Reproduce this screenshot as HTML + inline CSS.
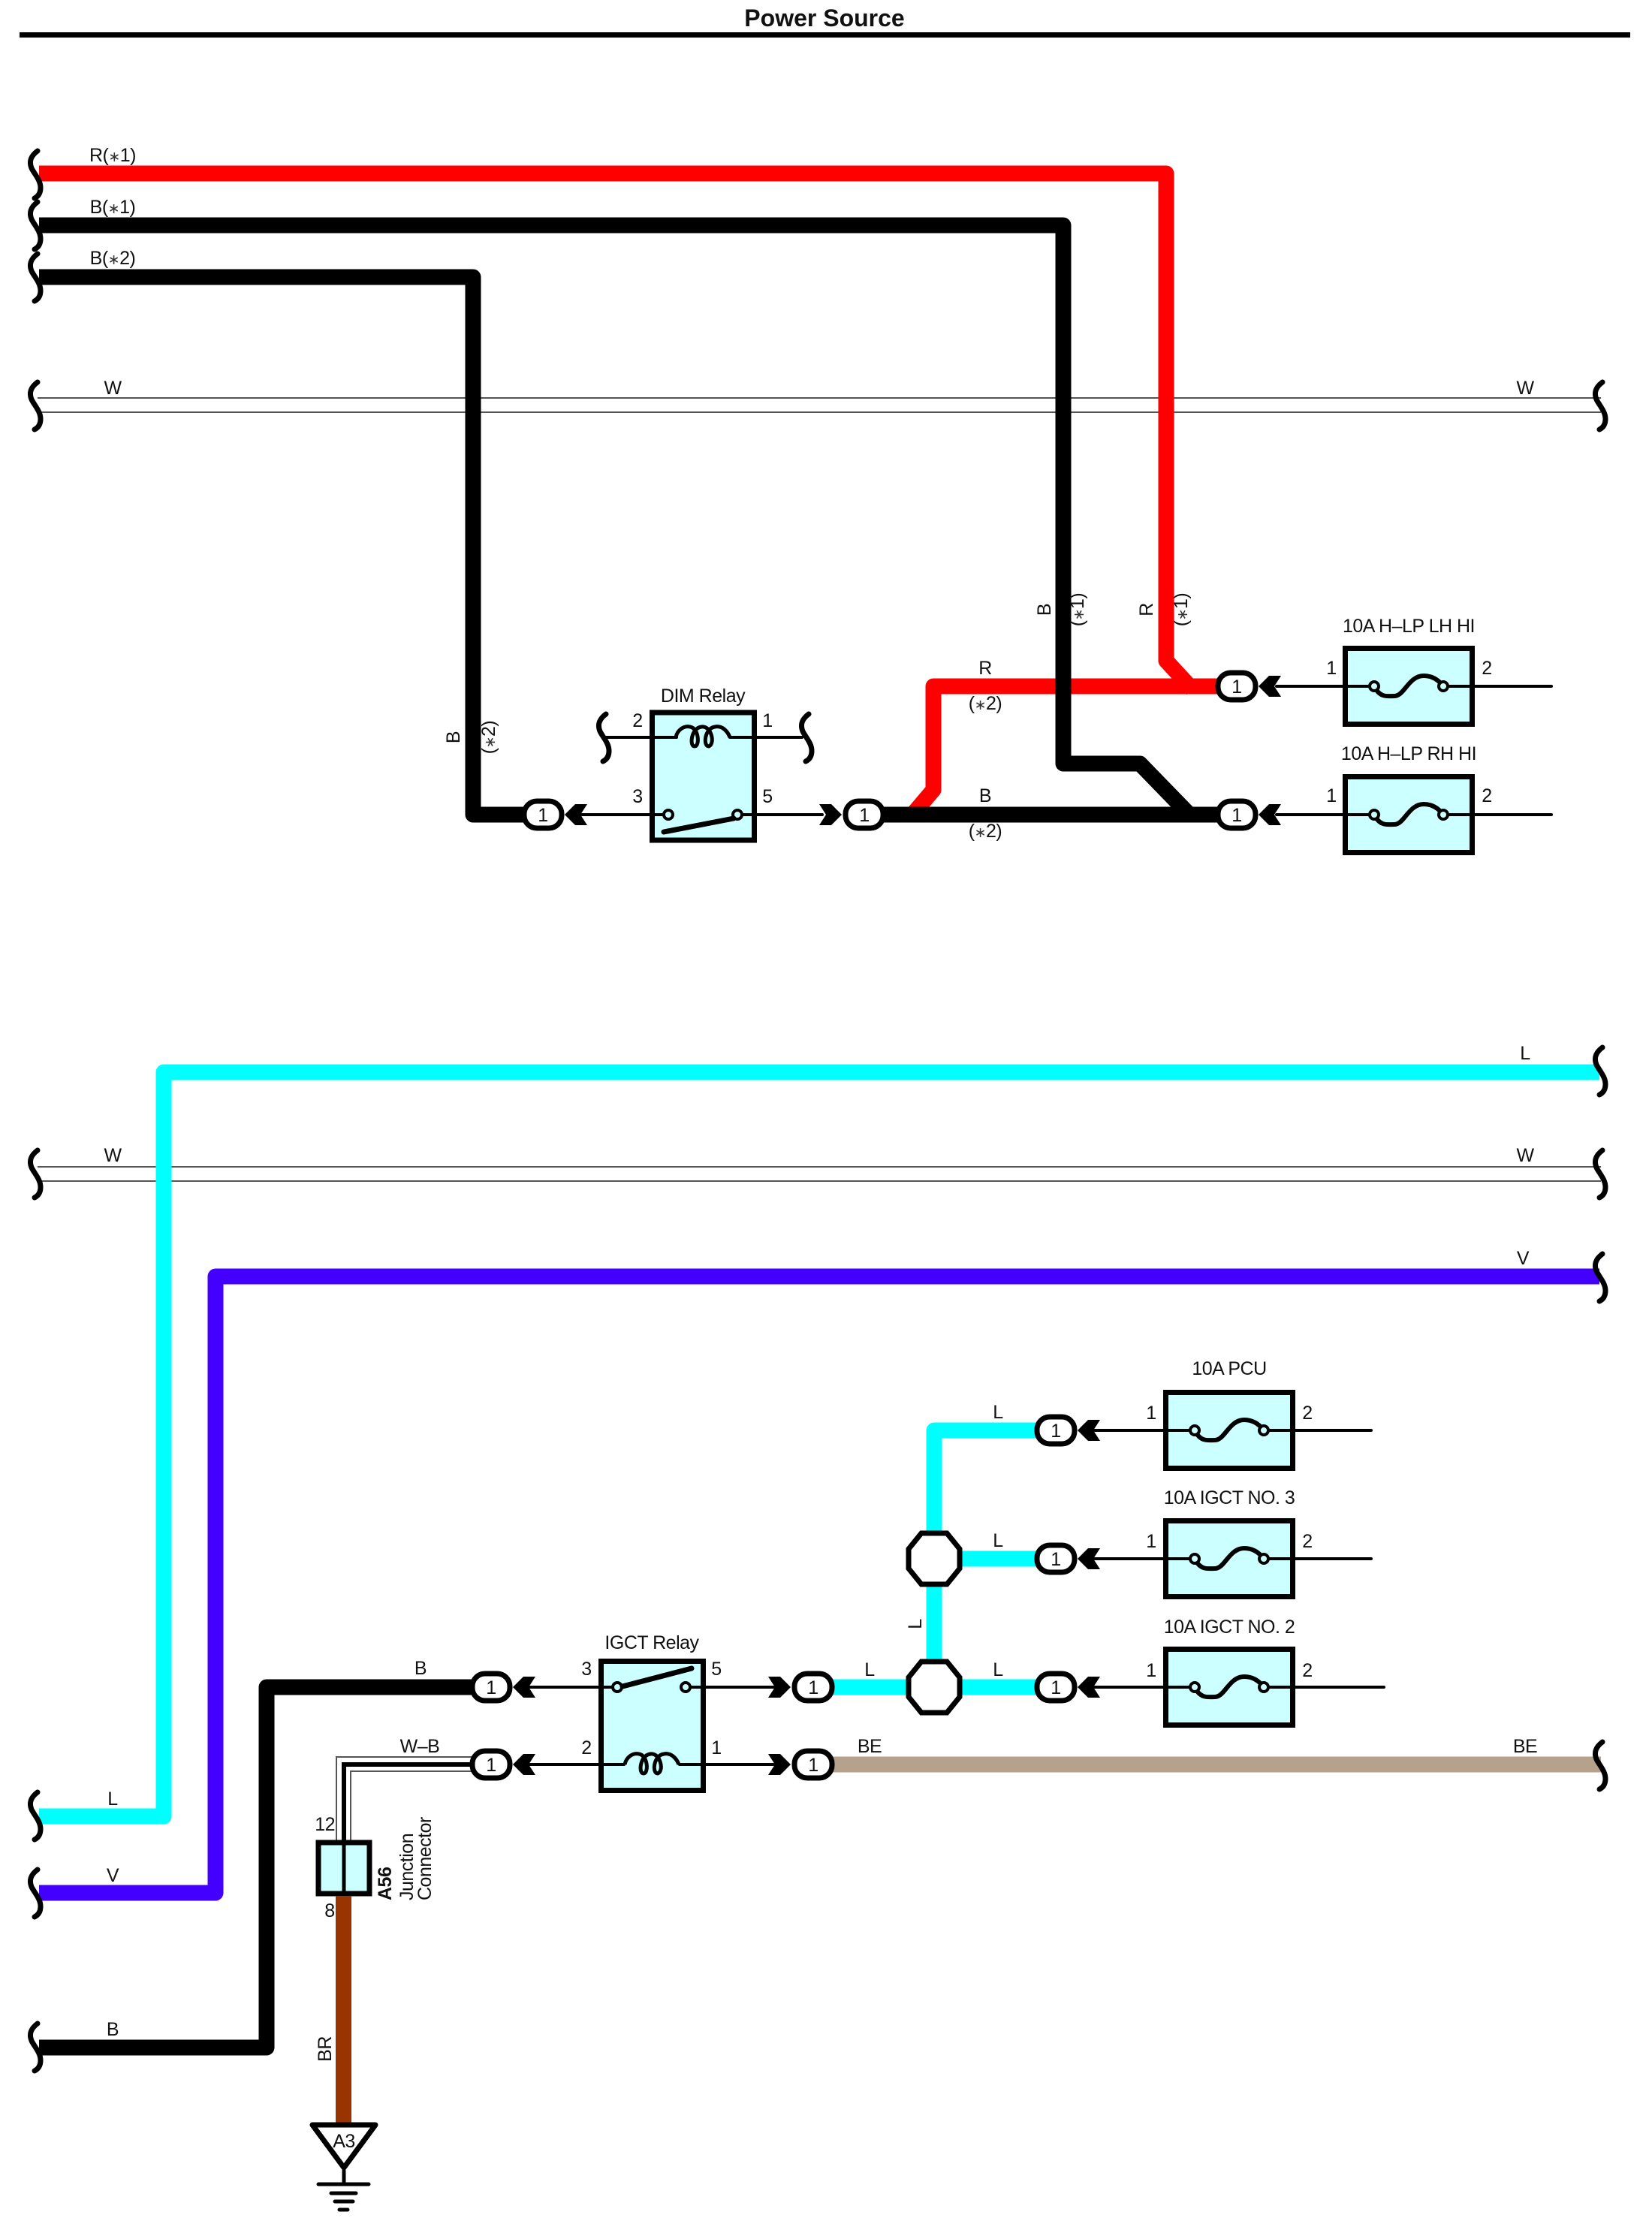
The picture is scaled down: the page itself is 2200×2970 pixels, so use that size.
<!DOCTYPE html>
<html><head><meta charset="utf-8"><title>Power Source</title>
<style>
html,body{margin:0;padding:0;background:#fff}
svg{display:block}
text{font-family:"Liberation Sans",Arial,sans-serif;font-size:25px;letter-spacing:-.5px;fill:#111;text-anchor:middle}
.a{font-size:19px;fill:#333}
.w{fill:none;stroke-width:21;stroke-linejoin:round}
.t{fill:none;stroke:#000;stroke-width:4;stroke-linecap:round}
.th{fill:none;stroke:#555;stroke-width:2}
</style></head><body>
<svg xmlns="http://www.w3.org/2000/svg" width="2200" height="2970" viewBox="0 0 2200 2970">
<defs>
<path id="br" d="M50 -31C42 -25 38 -18 42 -8C46 0 54 8 54 18C54 24 52 29 46 32" fill="none" stroke="#000" stroke-width="7" stroke-linecap="round"/>
<g id="pill"><rect x="-25" y="-18" width="50" height="36" rx="17" fill="#fff" stroke="#000" stroke-width="7"/></g>
<polygon id="cl" points="0,0 14,-14 30,-14 21,0 30,14 14,14"/>
<polygon id="cr" points="0,0 -14,-14 -30,-14 -21,0 -30,14 -14,14"/>
<polygon id="oct" points="-17,-34 17,-34 34,-13 34,13 17,34 -17,34 -34,13 -34,-13" fill="#fff" stroke="#000" stroke-width="7"/>
<g id="fuse">
<rect x="-84.5" y="-50.5" width="169" height="101" fill="#ccffff" stroke="#000" stroke-width="7"/>
</g>
<g id="fusei">
<path d="M-46 0C-38 16 -28 13 -19 13C-6 13 0 -14 20 -14C32 -14 40 -8 46 0" fill="none" stroke="#000" stroke-width="6"/>
<circle cx="-46" cy="0" r="6" fill="#ccffff" stroke="#000" stroke-width="4"/>
<circle cx="46" cy="0" r="6" fill="#ccffff" stroke="#000" stroke-width="4"/>
</g>
<path id="coil" d="M-36 0C-34 -10 -25 -16 -17 -14C-5 -12 -4 12 -11 12C-18 12 -16 -12 -2 -14C11 -16 17 8 8 12C0 12 2 -12 16 -14C26 -16 33 -8 36 0" fill="none" stroke="#000" stroke-width="5"/>
</defs>

<rect width="2200" height="2970" fill="#fff"/>
<text x="1098" y="35" style="font-weight:bold;font-size:32px;letter-spacing:0">Power Source</text>
<rect x="26" y="43" width="2145" height="7" fill="#000"/>

<!-- top W -->
<path class="th" d="M50 530H2132M50 549H2132"/>
<use href="#br" transform="translate(0,540)"/>
<use href="#br" transform="translate(2084,540)"/>
<text x="150" y="525">W</text><text x="2031" y="525">W</text>

<!-- red wires -->
<path class="w" stroke="#f00" d="M52 231H1553V880L1588 918"/>
<path class="w" stroke="#f00" d="M1625 914H1243V1052L1215 1085"/>
<!-- black wires -->
<path class="w" stroke="#000" d="M52 300H1416V1017H1518L1584 1085"/>
<path class="w" stroke="#000" d="M52 369H630V1085H700"/>
<path class="w" stroke="#000" d="M1151 1085H1625"/>

<use href="#br" transform="translate(0,232)"/>
<use href="#br" transform="translate(0,300)"/>
<use href="#br" transform="translate(0,369)"/>
<text x="150" y="215">R(<tspan class="a">∗</tspan>1)</text><text x="150" y="284">B(<tspan class="a">∗</tspan>1)</text><text x="150" y="352">B(<tspan class="a">∗</tspan>2)</text>

<!-- labels top -->
<text transform="translate(612,982) rotate(-90)">B</text>
<text transform="translate(659,982) rotate(-90)">(<tspan class="a">∗</tspan>2)</text>
<text transform="translate(1399,812) rotate(-90)">B</text>
<text transform="translate(1443,812) rotate(-90)">(<tspan class="a">∗</tspan>1)</text>
<text transform="translate(1535,812) rotate(-90)">R</text>
<text transform="translate(1581,812) rotate(-90)">(<tspan class="a">∗</tspan>1)</text>
<text x="1312" y="898">R</text><text x="1312" y="945">(<tspan class="a">∗</tspan>2)</text>
<text x="1312" y="1068">B</text><text x="1312" y="1115">(<tspan class="a">∗</tspan>2)</text>

<!-- DIM relay -->
<rect x="868.5" y="949" width="136" height="170" fill="#ccffff" stroke="#000" stroke-width="7"/>
<text x="936" y="935">DIM Relay</text>
<path class="t" d="M805 982H901M972 982H1068"/>
<use href="#coil" transform="translate(936,982)"/>
<use href="#br" transform="translate(757,982)"/>
<use href="#br" transform="translate(1027,982)"/>
<path class="t" d="M775 1085H884M988 1085H1095"/>
<circle cx="890" cy="1085" r="6" fill="#ccffff" stroke="#000" stroke-width="4"/>
<circle cx="982" cy="1085" r="6" fill="#ccffff" stroke="#000" stroke-width="4"/>
<path d="M884 1108L977 1090" stroke="#000" stroke-width="7" stroke-linecap="round"/>
<text x="849" y="968">2</text><text x="1022" y="968">1</text><text x="849" y="1069">3</text><text x="1022" y="1069">5</text>
<use href="#pill" transform="translate(723,1085)"/><text x="723" y="1094">1</text>
<use href="#cl" transform="translate(752,1085)"/>
<use href="#pill" transform="translate(1151,1085)"/><text x="1151" y="1094">1</text>
<use href="#cr" transform="translate(1121,1085)"/>

<!-- Fuses top -->
<path class="t" d="M1700 914H2066M1700 1085H2066"/>
<g transform="translate(1876,914)"><use href="#fuse"/></g>
<g transform="translate(1876,1085)"><use href="#fuse"/></g>
<path class="t" d="M1788 914H1830M1922 914H1964M1788 1085H1830M1922 1085H1964"/>
<use href="#fusei" transform="translate(1876,914)"/>
<use href="#fusei" transform="translate(1876,1085)"/>
<text x="1876" y="842">10A H–LP LH HI</text>
<text x="1876" y="1012">10A H–LP RH HI</text>
<text x="1773" y="898">1</text><text x="1980" y="898">2</text>
<text x="1773" y="1068">1</text><text x="1980" y="1068">2</text>
<use href="#pill" transform="translate(1647,914)"/><text x="1647" y="923">1</text>
<use href="#cl" transform="translate(1676,914)"/>
<use href="#pill" transform="translate(1647,1085)"/><text x="1647" y="1094">1</text>
<use href="#cl" transform="translate(1676,1085)"/>

<!-- second W -->
<path class="th" d="M50 1554H2132M50 1573H2132"/>
<use href="#br" transform="translate(0,1563)"/>
<use href="#br" transform="translate(2084,1563)"/>
<text x="150" y="1547">W</text><text x="2031" y="1547">W</text>

<!-- L, V, B long -->
<path class="w" stroke="#0ff" d="M2130 1428H218V2419H52"/>
<path class="w" stroke="#4400ff" d="M2130 1700H287V2521H52"/>
<path class="w" stroke="#000" d="M52 2727H355V2247H640"/>
<use href="#br" transform="translate(2084,1426)"/>
<use href="#br" transform="translate(2084,1701)"/>
<use href="#br" transform="translate(0,2418)"/>
<use href="#br" transform="translate(0,2521)"/>
<use href="#br" transform="translate(0,2726)"/>
<text x="2031" y="1411">L</text><text x="2028" y="1684">V</text>
<text x="150" y="2404">L</text><text x="150" y="2506">V</text><text x="150" y="2711">B</text>

<!-- cyan branch -->
<path class="w" stroke="#0ff" d="M1100 2247H1385M1244 2247V1905H1385M1244 2076H1385"/>
<use href="#oct" transform="translate(1244,2076)"/>
<use href="#oct" transform="translate(1244,2247)"/>
<text transform="translate(1227,2163) rotate(-90)">L</text>
<text x="1329" y="1889">L</text><text x="1329" y="2060">L</text><text x="1329" y="2232">L</text>

<!-- fuses lower -->
<path class="t" d="M1458 1905H1826M1458 2076H1826M1458 2247H1843"/>
<g transform="translate(1637,1905)"><use href="#fuse"/></g>
<g transform="translate(1637,2076)"><use href="#fuse"/></g>
<g transform="translate(1637,2247)"><use href="#fuse"/></g>
<path class="t" d="M1549 1905H1591M1683 1905H1725M1549 2076H1591M1683 2076H1725M1549 2247H1591M1683 2247H1725"/>
<use href="#fusei" transform="translate(1637,1905)"/>
<use href="#fusei" transform="translate(1637,2076)"/>
<use href="#fusei" transform="translate(1637,2247)"/>
<text x="1637" y="1831">10A PCU</text>
<text x="1637" y="2003">10A IGCT NO. 3</text>
<text x="1637" y="2175">10A IGCT NO. 2</text>
<text x="1533" y="1890">1</text><text x="1741" y="1890">2</text>
<text x="1533" y="2061">1</text><text x="1741" y="2061">2</text>
<text x="1533" y="2233">1</text><text x="1741" y="2233">2</text>
<use href="#pill" transform="translate(1406,1905)"/><text x="1406" y="1914">1</text>
<use href="#cl" transform="translate(1435,1905)"/>
<use href="#pill" transform="translate(1406,2076)"/><text x="1406" y="2085">1</text>
<use href="#cl" transform="translate(1435,2076)"/>
<use href="#pill" transform="translate(1406,2247)"/><text x="1406" y="2256">1</text>
<use href="#cl" transform="translate(1435,2247)"/>

<!-- BE -->
<path class="w" stroke="#b5a18c" d="M1100 2350H2132"/>
<use href="#br" transform="translate(2084,2351)"/>
<text x="1158" y="2334">BE</text><text x="2031" y="2334">BE</text>
<text x="1158" y="2232">L</text>

<!-- IGCT relay -->
<rect x="800.5" y="2212.5" width="136" height="172" fill="#ccffff" stroke="#000" stroke-width="7"/>
<text x="868" y="2196">IGCT Relay</text>
<path class="t" d="M705 2247H816M919 2247H1030M705 2350H831M905 2350H1030"/>
<circle cx="822" cy="2247" r="6" fill="#ccffff" stroke="#000" stroke-width="4"/>
<circle cx="913" cy="2247" r="6" fill="#ccffff" stroke="#000" stroke-width="4"/>
<path d="M829 2246L921 2222" stroke="#000" stroke-width="7" stroke-linecap="round"/>
<use href="#coil" transform="translate(868,2350)"/>
<text x="781" y="2231">3</text><text x="954" y="2231">5</text><text x="781" y="2336">2</text><text x="954" y="2336">1</text>
<text x="560" y="2230">B</text><text x="559" y="2334">W–B</text>

<!-- W-B wire -->
<path class="th" d="M448 2452V2340H635M467 2452V2359H635"/>
<path fill="none" stroke="#000" stroke-width="6" d="M458 2452V2350H635"/>

<use href="#pill" transform="translate(654,2247)"/><text x="654" y="2256">1</text>
<use href="#cl" transform="translate(683,2247)"/>
<use href="#pill" transform="translate(654,2350)"/><text x="654" y="2359">1</text>
<use href="#cl" transform="translate(683,2350)"/>
<use href="#pill" transform="translate(1083,2247)"/><text x="1083" y="2256">1</text>
<use href="#cr" transform="translate(1053,2247)"/>
<use href="#pill" transform="translate(1083,2350)"/><text x="1083" y="2359">1</text>
<use href="#cr" transform="translate(1053,2350)"/>

<!-- junction connector -->
<rect x="424" y="2454" width="68" height="68" fill="#ccffff" stroke="#000" stroke-width="7"/>
<path d="M458 2452V2522" stroke="#000" stroke-width="5"/>
<path d="M457.5 2525V2830" stroke="#993300" stroke-width="21" fill="none"/>
<text x="446" y="2438" style="text-anchor:end">12</text>
<text x="439" y="2553">8</text>
<text transform="translate(441,2729) rotate(-90)">BR</text>
<text transform="translate(521,2531) rotate(-90)" style="text-anchor:start;font-weight:bold">A56</text>
<text transform="translate(550,2531) rotate(-90)" style="text-anchor:start">Junction</text>
<text transform="translate(574,2531) rotate(-90)" style="text-anchor:start">Connector</text>

<!-- ground -->
<polygon points="416,2832 500,2832 458,2889" fill="#fff" stroke="#000" stroke-width="7" stroke-linejoin="round" transform="translate(0,-2)"/>
<text x="458" y="2860">A3</text>
<path d="M458 2891V2909M424 2909H491M441 2921H474M446 2932H470M452 2943H463" stroke="#000" stroke-width="5" stroke-linecap="round" fill="none"/>
</svg>
</body></html>
